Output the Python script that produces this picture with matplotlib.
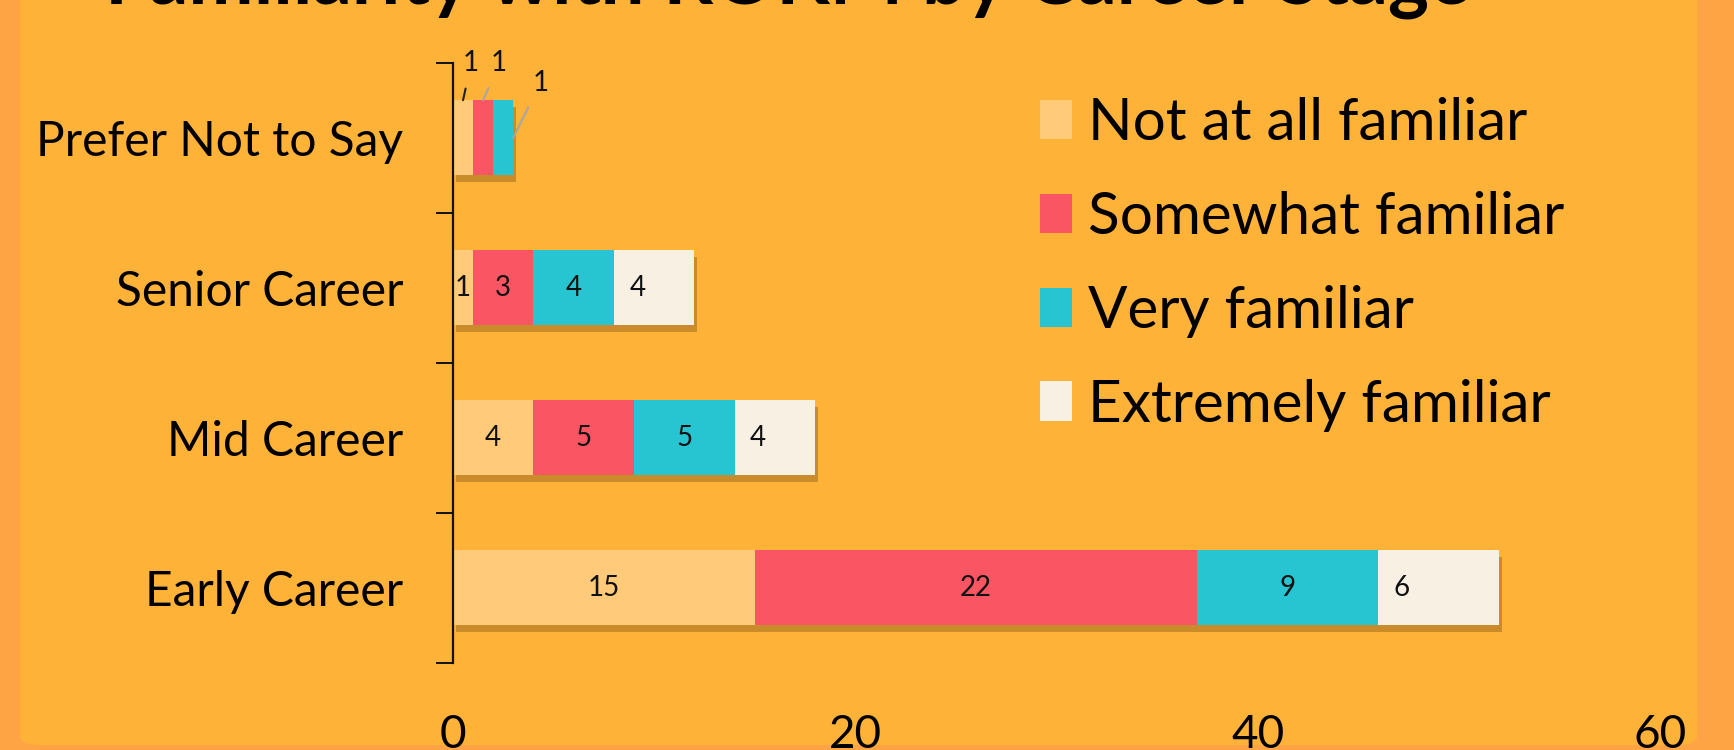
import matplotlib
matplotlib.use("Agg")
import matplotlib.pyplot as plt
import matplotlib.patheffects as pe
from matplotlib.patches import FancyBboxPatch, Patch

plt.rcParams['font.family'] = ['Lato', 'DejaVu Sans']

stages = ["Early Career", "Mid Career", "Senior Career", "Prefer Not to Say"]
levels = ["Not at all familiar", "Somewhat familiar", "Very familiar", "Extremely familiar"]
not_at_all = [15, 4, 1, 1]
somewhat = [22, 5, 3, 1]
very = [9, 5, 4, 1]
extremely = [6, 4, 4, 0]
x_ticks = [0, 20, 40, 60]

colors = ["#FFCA7A", "#FA5563", "#27C5D2", "#F8F0E3"]
series = [not_at_all, somewhat, very, extremely]

W, H = 1734, 750
fig = plt.figure(figsize=(W / 100, H / 100), dpi=100)
fig.patch.set_facecolor("#FFA444")

# inner rounded panel, behind everything
panel = FancyBboxPatch((20 / W, 5 / H), 1677 / W, 1.2, boxstyle="round,pad=0,rounding_size=0.012",
                       transform=fig.transFigure, facecolor="#FFB238", edgecolor="none", zorder=-5)
fig.patches.append(panel)

ax = fig.add_axes([453 / W, (H - 662.7) / H, 1207 / W, 600 / H])
ax.set_facecolor("none")
ax.set_zorder(2)

shadow = [pe.SimplePatchShadow(offset=(2, -5), shadow_rgbFace="#8a5e1c", alpha=0.45), pe.Normal()]

ypos = list(range(len(stages)))
left = [0] * len(stages)
for k, (vals, col) in enumerate(zip(series, colors)):
    bars = ax.barh(ypos, vals, left=left, height=0.5, color=col, edgecolor="none", label=levels[k])
    for b in bars:
        b.set_path_effects(shadow)
    for i, v in enumerate(vals):
        if v == 0 or stages[i] == "Prefer Not to Say":
            continue
        if k == 3:
            ax.annotate(str(v), xy=(left[i], ypos[i]), xytext=(17, 0), textcoords="offset points",
                        ha="center", va="center", fontsize=20, color="#111111")
        else:
            ax.text(left[i] + v / 2, ypos[i], str(v), ha="center", va="center", fontsize=20, color="#111111")
    left = [a + b for a, b in zip(left, vals)]

# callout labels for the small "Prefer Not to Say" bar
p = stages.index("Prefer Not to Say")
x0 = 0
callouts = [((0.5, 0.25), (5.8, 26.6), "#222222"),
            ((0.5, 0.25), (11.5, 26.6), "#A6A6A6"),
            ((1.0, 0.0), (19.4, 39.6), "#A6A6A6")]
for k in range(3):
    v = series[k][p]
    (fx, fy), off, lc = callouts[k]
    ax.annotate(str(v), xy=(x0 + fx * v, p + fy), xytext=off, textcoords="offset points",
                ha="center", va="center", fontsize=20, color="#111111",
                arrowprops=dict(arrowstyle="-", color=lc, lw=1.5, shrinkA=7, shrinkB=0))
    x0 += v

ax.set_xlim(0, 60)
ax.set_ylim(-0.5, len(stages) - 0.5)
for s in ["top", "right", "bottom"]:
    ax.spines[s].set_visible(False)
ax.spines["left"].set_linewidth(1.6)
ax.spines["left"].set_color("#111111")

ax.set_yticks([y - 0.5 for y in range(len(stages) + 1)])
ax.set_yticklabels([])
ax.tick_params(axis="y", which="major", length=12, width=1.4, direction="out", color="#111111")
ax.set_yticks(ypos, minor=True)
ax.set_yticklabels(stages, minor=True, fontsize=34.5)
ax.tick_params(axis="y", which="minor", length=0, pad=36)

ax.set_xticks(x_ticks)
ax.set_xticklabels([str(t) for t in x_ticks], fontsize=33)
ax.tick_params(axis="x", length=0, pad=37)

handles = [Patch(facecolor=c, edgecolor="none") for c in colors]
fig.legend(handles, levels, loc="upper left", bbox_to_anchor=(1040 / W, (H - 97) / H),
           frameon=False, fontsize=42, handlelength=0.54, handleheight=0.66,
           handletextpad=0.28, labelspacing=0.7, borderpad=0, borderaxespad=0)

fig.text(105 / W, (H - 4) / H, "Familiarity with ROKM by Career Stage", fontsize=56,
         fontweight="bold", ha="left", va="baseline", color="black")

fig.savefig("out.png", dpi=100, facecolor=fig.get_facecolor())
